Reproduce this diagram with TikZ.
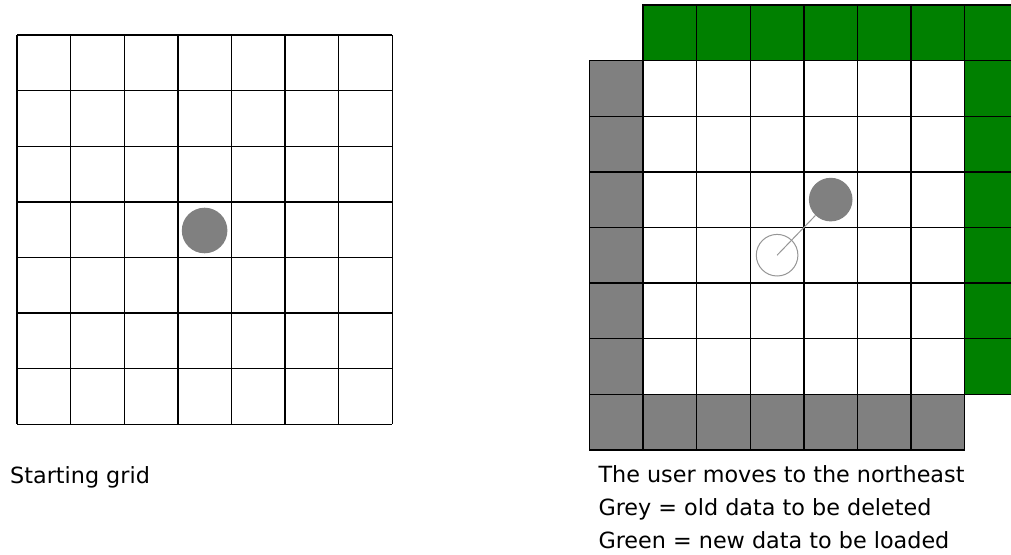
\documentclass[tikz,border=0pt]{standalone}
\usepackage{fontspec}
\setmainfont{DejaVu Sans}
\usepackage{xcolor}
\usepackage{tikz}

\definecolor{newgreen}{RGB}{0,128,0}
\definecolor{oldgrey}{RGB}{128,128,128}
\definecolor{trailgrey}{RGB}{150,150,150}

\begin{document}
\begin{tikzpicture}[x=1pt,y=-1pt,
    cell/.style={draw=black,line width=1.4pt},
    caption/.style={anchor=base west,inner sep=0pt,font=\fontsize{22.3}{33}\selectfont}]
  \useasboundingbox (0,0) rectangle (1011,554);

  % starting grid, 7x7
  \foreach \i in {0,...,7} {
    \draw[cell] ({17+53.6*\i},35) -- ({17+53.6*\i},424);
    \draw[cell] (17,{35+55.6*\i}) -- (392,{35+55.6*\i});
  }
  \node[circle,fill=oldgrey,minimum size=45.6pt,inner sep=0pt] (start) at (204.6,230.5) {};

  % shifted grid: white cells
  \foreach \c in {1,...,6}
    \foreach \r in {1,...,6}
      \draw[cell,fill=white] ({589.5+53.6*\c},{5+55.6*\r}) rectangle ++(53.6,55.6);

  % green = new data (top row, right column)
  \foreach \c in {1,...,7}
    \draw[cell,fill=newgreen] ({589.5+53.6*\c},5) rectangle ++(53.6,55.6);
  \foreach \r in {1,...,6}
    \draw[cell,fill=newgreen] ({589.5+53.6*7},{5+55.6*\r}) rectangle ++(53.6,55.6);

  % grey = old data (left column, bottom row)
  \foreach \r in {1,...,7}
    \draw[cell,fill=oldgrey] (589.5,{5+55.6*\r}) rectangle ++(53.6,55.6);
  \foreach \c in {1,...,6}
    \draw[cell,fill=oldgrey] ({589.5+53.6*\c},{5+55.6*7}) rectangle ++(53.6,55.6);

  % the move
  \node[circle,draw=trailgrey,line width=1pt,minimum size=41.6pt,inner sep=0pt] (old) at (777.1,255.2) {};
  \node[circle,fill=oldgrey,minimum size=43.6pt,inner sep=0pt] (new) at (830.7,199.6) {};
  \draw[trailgrey,line width=1pt] (old.center) -- (new);

  % captions
  \node[caption] (startcap) at (10,483.3) {Starting grid};
  \node[caption] (movecap) at (598.3,482) {The user moves to the northeast};
  \node[caption] (greycap) at (598.3,515.5) {Grey = old data to be deleted};
  \node[caption] (greencap) at (598.3,548) {Green = new data to be loaded};
\end{tikzpicture}
\end{document}
